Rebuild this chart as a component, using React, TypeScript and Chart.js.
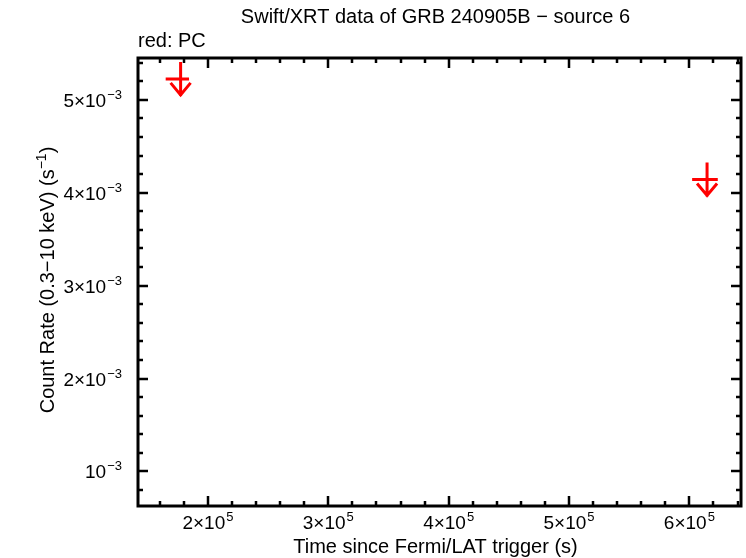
import { useEffect, useRef } from 'react'
import { Chart, registerables, type Plugin } from 'chart.js'

Chart.register(...registerables)

// PC mode upper limits
const pcTime = [1.773e5, 6.147e5]
const pcTimeErrLo = [0.124e5, 0.124e5]
const pcTimeErrHi = [0.07e5, 0.089e5]
const pcRateUL = [5.225e-3, 4.143e-3]

const xRange = [1.419e5, 6.429e5]
const yRange = [0.628e-3, 5.45e-3]

const xMajorTicks = [2e5, 3e5, 4e5, 5e5, 6e5]
const xTickLabels: [string, string][] = [['2×10', '5'], ['3×10', '5'], ['4×10', '5'], ['5×10', '5'], ['6×10', '5']]
const xMinorStep = 0.2e5

const yMajorTicks = [1e-3, 2e-3, 3e-3, 4e-3, 5e-3]
const yTickLabels: [string, string][] = [['10', '−3'], ['2×10', '−3'], ['3×10', '−3'], ['4×10', '−3'], ['5×10', '−3']]
const yMinorStep = 0.2e-3

const TITLE = 'Swift/XRT data of GRB 240905B − source 6'
const SUBTITLE = 'red: PC'
const X_TITLE = 'Time since Fermi/LAT trigger (s)'
const FONT = '"Liberation Sans", Arial, Helvetica, sans-serif'

// text with a raised exponent; align = where x sits (left/center/right)
function supText(ctx: CanvasRenderingContext2D, x: number, y: number, main: string, sup: string, size: number, align: 'left' | 'center' | 'right') {
  const supSize = Math.round(size * 0.68)
  ctx.font = `${size}px ${FONT}`
  const w1 = ctx.measureText(main).width
  ctx.font = `${supSize}px ${FONT}`
  const w2 = ctx.measureText(sup).width
  const total = w1 + w2 + 1
  let x0 = x
  if (align === 'center') x0 = x - total / 2
  if (align === 'right') x0 = x - total
  ctx.textAlign = 'left'
  ctx.textBaseline = 'alphabetic'
  ctx.font = `${size}px ${FONT}`
  ctx.fillText(main, x0, y)
  ctx.font = `${supSize}px ${FONT}`
  ctx.fillText(sup, x0 + w1 + 1, y - size * 0.42)
}

const decor: Plugin = {
  id: 'decor',
  afterDatasetsDraw(chart) {
    const { ctx, chartArea: a, scales } = chart
    const xs = scales.x
    const ys = scales.y
    ctx.save()

    // upper limits
    ctx.strokeStyle = '#ff0000'
    ctx.lineWidth = 3
    pcTime.forEach((t, i) => {
      const px = xs.getPixelForValue(t)
      const py = ys.getPixelForValue(pcRateUL[i])
      const l = xs.getPixelForValue(t - pcTimeErrLo[i])
      const r = xs.getPixelForValue(t + pcTimeErrHi[i])
      ctx.beginPath()
      ctx.moveTo(l, py); ctx.lineTo(r, py)
      ctx.moveTo(px, py - 17); ctx.lineTo(px, py + 17)
      ctx.moveTo(px - 10, py + 4); ctx.lineTo(px, py + 16); ctx.lineTo(px + 10, py + 4)
      ctx.stroke()
    })

    // frame
    ctx.strokeStyle = '#000'
    ctx.lineWidth = 3
    ctx.strokeRect(a.left, a.top, a.right - a.left, a.bottom - a.top)

    // ticks, inward, on all four sides
    ctx.lineWidth = 2.5
    ctx.beginPath()
    for (let v = Math.ceil(xRange[0] / xMinorStep) * xMinorStep; v <= xRange[1]; v += xMinorStep) {
      const major = xMajorTicks.some(m => Math.abs(m - v) < xMinorStep / 10)
      const len = major ? 10 : 5
      const px = Math.round(xs.getPixelForValue(v))
      ctx.moveTo(px, a.bottom); ctx.lineTo(px, a.bottom - len)
      ctx.moveTo(px, a.top); ctx.lineTo(px, a.top + len)
    }
    for (let v = Math.ceil(yRange[0] / yMinorStep) * yMinorStep; v <= yRange[1]; v += yMinorStep) {
      const major = yMajorTicks.some(m => Math.abs(m - v) < yMinorStep / 10)
      const len = major ? 10 : 5
      const py = Math.round(ys.getPixelForValue(v))
      ctx.moveTo(a.left, py); ctx.lineTo(a.left + len, py)
      ctx.moveTo(a.right, py); ctx.lineTo(a.right - len, py)
    }
    ctx.stroke()

    // tick labels
    ctx.fillStyle = '#000'
    xMajorTicks.forEach((v, i) => {
      supText(ctx, xs.getPixelForValue(v), a.bottom + 23, xTickLabels[i][0], xTickLabels[i][1], 19, 'center')
    })
    yMajorTicks.forEach((v, i) => {
      supText(ctx, a.left - 16, ys.getPixelForValue(v) + 7, yTickLabels[i][0], yTickLabels[i][1], 19, 'right')
    })

    // titles
    ctx.font = `20px ${FONT}`
    ctx.textAlign = 'center'
    ctx.textBaseline = 'alphabetic'
    ctx.fillText(TITLE, (a.left + a.right) / 2 - 4, 23)
    ctx.fillText(X_TITLE, (a.left + a.right) / 2 - 4, 553)
    ctx.textAlign = 'left'
    ctx.fillText(SUBTITLE, a.left, 47)

    // y title, rotated, with (s^-1)
    ctx.translate(54, 280)
    ctx.rotate(-Math.PI / 2)
    const p1 = 'Count Rate (0.3−10 keV) (s'
    const p2 = '−1'
    const p3 = ')'
    ctx.font = `20px ${FONT}`
    const w1 = ctx.measureText(p1).width
    const w3 = ctx.measureText(p3).width
    ctx.font = `14px ${FONT}`
    const w2 = ctx.measureText(p2).width
    const x0 = -(w1 + w2 + w3) / 2
    ctx.font = `20px ${FONT}`
    ctx.fillText(p1, x0, 0)
    ctx.font = `14px ${FONT}`
    ctx.fillText(p2, x0 + w1, -8)
    ctx.font = `20px ${FONT}`
    ctx.fillText(p3, x0 + w1 + w2, 0)
    ctx.restore()
  },
}

export default function App() {
  const ref = useRef<HTMLCanvasElement>(null)

  useEffect(() => {
    if (!ref.current) return
    document.body.style.margin = '0'
    const chart = new Chart(ref.current, {
      type: 'scatter',
      data: {
        datasets: [{
          label: 'PC',
          data: pcTime.map((t, i) => ({ x: t, y: pcRateUL[i] })),
          pointRadius: 0,
          showLine: false,
        }],
      },
      options: {
        responsive: false,
        animation: false,
        devicePixelRatio: 1,
        layout: { padding: { left: 138, right: 5, top: 58, bottom: 52 } },
        plugins: { legend: { display: false }, tooltip: { enabled: false }, title: { display: false } },
        scales: {
          x: { type: 'linear', min: xRange[0], max: xRange[1], display: false },
          y: { type: 'linear', min: yRange[0], max: yRange[1], display: false },
        },
      },
      plugins: [decor],
    })
    return () => chart.destroy()
  }, [])

  return (
    <div style={{ position: 'absolute', left: 0, top: 0, width: 746, height: 558, background: '#fff' }}>
      <canvas ref={ref} width={746} height={558} style={{ width: 746, height: 558 }} />
    </div>
  )
}
